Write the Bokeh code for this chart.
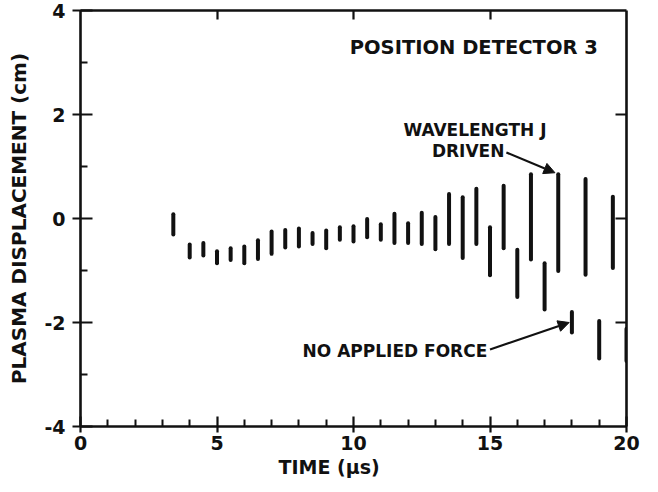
from bokeh.plotting import figure
from bokeh.models import Range1d, LinearAxis, FixedTicker, Arrow, NormalHead, ColumnDataSource, Label, Title
from bokeh.embed import file_html
from bokeh.resources import INLINE

# ---- data ----
# Wavelength J driven (half-microsecond shots)
driven_t  = [3.4, 4.5, 5.5, 6.5, 7.5, 8.5, 9.5, 10.5, 11.5, 12.5, 13.5, 14.5, 15.5, 16.5, 17.5, 18.5, 19.5]
driven_lo = [-0.31, -0.71, -0.80, -0.78, -0.56, -0.49, -0.41, -0.36, -0.47, -0.49, -0.49, -0.49, -0.57, -0.79, -1.01, -1.08, -0.95]
driven_hi = [0.08, -0.47, -0.57, -0.42, -0.22, -0.28, -0.17, -0.01, 0.09, 0.11, 0.47, 0.57, 0.63, 0.85, 0.85, 0.76, 0.42]
# No applied force (integer-microsecond shots)
free_t  = [4.0, 5.0, 6.0, 7.0, 8.0, 9.0, 10.0, 11.0, 12.0, 13.0, 14.0, 15.0, 16.0, 17.0, 18.0, 19.0, 20.0]
free_lo = [-0.75, -0.86, -0.86, -0.68, -0.54, -0.57, -0.44, -0.41, -0.47, -0.59, -0.76, -1.09, -1.51, -1.75, -2.19, -2.69, -2.74]
free_hi = [-0.50, -0.63, -0.54, -0.25, -0.19, -0.23, -0.15, -0.11, -0.09, 0.03, 0.41, -0.17, -0.60, -0.86, -1.80, -1.97, -2.12]

x_major = [0, 5, 10, 15, 20]
x_minor = [1, 2, 3, 4, 6, 7, 8, 9, 11, 12, 13, 14, 16, 17, 18, 19]
y_major = [-4, -2, 0, 2, 4]
y_minor = [-3, -1, 1, 3]
x_labels = {0: "0", 5: "5", 10: "10", 15: "15", 20: "20"}
y_labels = {-4: "-4", -2: "-2", 0: "0", 2: "2", 4: "4"}
top_ticks = [5, 10, 15]
right_ticks = [-2, 0, 2]

FONT = "DejaVu Sans"
INK = "#111111"

p = figure(width=658, height=492, output_backend="svg", toolbar_location=None,
           x_range=Range1d(0, 20), y_range=Range1d(-4, 4),
           x_axis_location=None, y_axis_location=None,
           min_border_left=80, min_border_right=32, min_border_top=10, min_border_bottom=66)
p.xgrid.visible = False
p.ygrid.visible = False
p.outline_line_color = None
p.background_fill_color = "white"
p.border_fill_color = "white"

def style(ax):
    ax.axis_line_color = INK
    ax.axis_line_width = 2.6
    ax.major_tick_line_color = INK
    ax.major_tick_line_width = 2.2
    ax.minor_tick_line_color = INK
    ax.minor_tick_line_width = 2
    ax.major_label_text_font = FONT
    ax.major_label_text_font_style = "bold"
    ax.major_label_text_font_size = "19px"
    ax.major_label_text_color = INK
    ax.axis_label_text_font = FONT
    ax.axis_label_text_font_style = "bold"
    ax.axis_label_text_font_size = "20px"
    ax.axis_label_text_color = INK

bottom = LinearAxis(ticker=FixedTicker(ticks=x_major, minor_ticks=x_minor),
                    major_label_overrides=x_labels)
style(bottom)
bottom.major_tick_in = 10
bottom.major_tick_out = 6
bottom.minor_tick_in = 7
bottom.minor_tick_out = 0
bottom.major_label_standoff = 3
p.add_layout(bottom, "below")

# x-axis title (sits left of centre in the original)
p.add_layout(Title(text="TIME (\u03bcs)", align="left", offset=198, standoff=2,
                   text_font=FONT, text_font_style="bold", text_font_size="19px",
                   text_color=INK), "below")

left = LinearAxis(ticker=FixedTicker(ticks=y_major, minor_ticks=y_minor),
                  major_label_overrides=y_labels, axis_label="PLASMA DISPLACEMENT (cm)")
style(left)
left.major_tick_in = 12
left.major_tick_out = 8
left.minor_tick_in = 7
left.minor_tick_out = 0
left.major_label_standoff = 7
left.axis_label_standoff = 10
p.add_layout(left, "left")

top = LinearAxis(ticker=FixedTicker(ticks=top_ticks, minor_ticks=[]),
                 major_label_overrides={t: "" for t in top_ticks})
style(top)
top.major_tick_in = 9
top.major_tick_out = 0
top.major_label_standoff = 0
p.add_layout(top, "above")

right = LinearAxis(ticker=FixedTicker(ticks=right_ticks, minor_ticks=[]),
                   major_label_overrides={t: "" for t in right_ticks})
style(right)
right.major_tick_in = 11
right.major_tick_out = 0
right.major_label_standoff = 0
p.add_layout(right, "right")

src_d = ColumnDataSource(dict(t=driven_t, lo=driven_lo, hi=driven_hi))
src_f = ColumnDataSource(dict(t=free_t, lo=free_lo, hi=free_hi))
p.segment(x0="t", y0="lo", x1="t", y1="hi", source=src_d, line_color=INK, line_width=4, line_cap="round")
p.segment(x0="t", y0="lo", x1="t", y1="hi", source=src_f, line_color=INK, line_width=4, line_cap="round")

def label(x, y, txt, align, size="17px"):
    p.add_layout(Label(x=x, y=y, text=txt, text_font=FONT, text_font_style="bold",
                       text_font_size=size, text_color=INK, text_align=align,
                       text_baseline="middle"))

label(18.95, 3.29, "POSITION DETECTOR 3", "right", "19.5px")
label(14.45, 1.70, "WAVELENGTH J", "center")
label(14.2, 1.30, "DRIVEN", "center")
label(14.9, -2.55, "NO APPLIED FORCE", "right")

p.add_layout(Arrow(end=NormalHead(size=11, fill_color=INK, line_color=INK),
                   x_start=15.6, y_start=1.27, x_end=17.38, y_end=0.88,
                   line_color=INK, line_width=2.2))
p.add_layout(Arrow(end=NormalHead(size=11, fill_color=INK, line_color=INK),
                   x_start=15.0, y_start=-2.52, x_end=17.9, y_end=-2.0,
                   line_color=INK, line_width=2.2))

open("out.html", "w").write(file_html(p, INLINE))
